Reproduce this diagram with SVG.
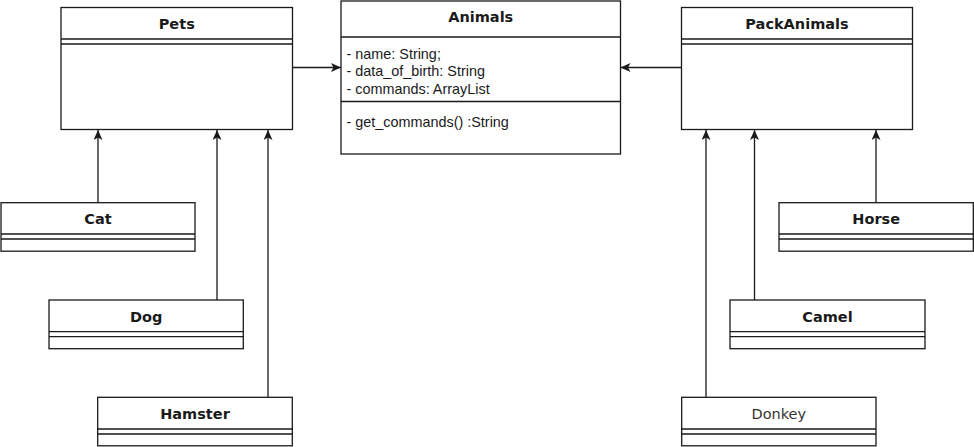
<svg xmlns="http://www.w3.org/2000/svg" width="974" height="447" viewBox="0 0 974 447">
<style>
.box{fill:#fff;stroke:#1a1a1a;stroke-width:1.3}
.sep{stroke:#1a1a1a;stroke-width:1.3;fill:none}
.title{font-family:"DejaVu Sans",sans-serif;font-size:14.5px;font-weight:bold;fill:#1a1a1a;text-anchor:middle}
.plain{font-family:"DejaVu Sans",sans-serif;font-size:14.5px;fill:#333;text-anchor:middle}
.attr{font-family:"Liberation Sans",Arial,sans-serif;font-size:14.4px;fill:#1a1a1a}
.conn{stroke:#1a1a1a;stroke-width:1.3;fill:none;marker-end:url(#arr)}
</style>
<defs>
<marker id="arr" markerUnits="userSpaceOnUse" markerWidth="12" markerHeight="10" refX="10" refY="4.5" orient="auto" viewBox="0 0 12 10">
<path d="M0,0 L10,4.5 L0,9 L2.5,4.5 Z" fill="#1a1a1a"/>
</marker>
</defs>
<rect width="974" height="447" fill="#fff"/>
<g id="connectors">
<path class="conn" d="M292.5,67.5 H341"/>
<path class="conn" d="M681.5,67.5 H620.5"/>
<path class="conn" d="M98,202.7 V130"/>
<path class="conn" d="M217,300 V130"/>
<path class="conn" d="M268,397.3 V130"/>
<path class="conn" d="M706,397.3 V130"/>
<path class="conn" d="M754.5,300 V130"/>
<path class="conn" d="M876,202.7 V130"/>
</g>
<g id="Pets">
<rect class="box" x="61" y="7.5" width="231.5" height="122"/>
<path class="sep" d="M61,39 H292.5 M61,44 H292.5"/>
<text class="title" x="176.75" y="29">Pets</text>
</g>
<g id="Animals">
<rect class="box" x="341" y="1" width="279.5" height="153"/>
<path class="sep" d="M341,37 H620.5 M341,101.5 H620.5"/>
<text class="title" x="480.75" y="21.5">Animals</text>
<text class="attr" x="346.5" y="58.5">- name: String;</text>
<text class="attr" x="346.5" y="76.3">- data_of_birth: String</text>
<text class="attr" x="346.5" y="93.5">- commands: ArrayList</text>
<text class="attr" x="346.5" y="127">- get_commands() :String</text>
</g>
<g id="PackAnimals">
<rect class="box" x="681.5" y="7.5" width="231" height="122"/>
<path class="sep" d="M681.5,39 H912.5 M681.5,44 H912.5"/>
<text class="title" x="797" y="29">PackAnimals</text>
</g>
<g id="Cat">
<rect class="box" x="1" y="202.7" width="194" height="48.5"/>
<path class="sep" d="M1,234 H195 M1,239 H195"/>
<text class="title" x="98" y="224.3">Cat</text>
</g>
<g id="Dog">
<rect class="box" x="49" y="300" width="194.3" height="48.7"/>
<path class="sep" d="M49,331.7 H243.3 M49,336.7 H243.3"/>
<text class="title" x="146.2" y="321.7">Dog</text>
</g>
<g id="Hamster">
<rect class="box" x="97.7" y="397.3" width="194.6" height="48.5"/>
<path class="sep" d="M97.7,429 H292.3 M97.7,434 H292.3"/>
<text class="title" x="195" y="419.3">Hamster</text>
</g>
<g id="Horse">
<rect class="box" x="779" y="202.7" width="194.3" height="48.5"/>
<path class="sep" d="M779,234 H973.3 M779,239 H973.3"/>
<text class="title" x="876.2" y="224.3">Horse</text>
</g>
<g id="Camel">
<rect class="box" x="730" y="300" width="195" height="48.7"/>
<path class="sep" d="M730,331.7 H925 M730,336.7 H925"/>
<text class="title" x="827.5" y="321.7">Camel</text>
</g>
<g id="Donkey">
<rect class="box" x="681.7" y="397.3" width="194.3" height="48.5"/>
<path class="sep" d="M681.7,429 H876 M681.7,434 H876"/>
<text class="plain" x="778.8" y="419.3">Donkey</text>
</g>
</svg>
